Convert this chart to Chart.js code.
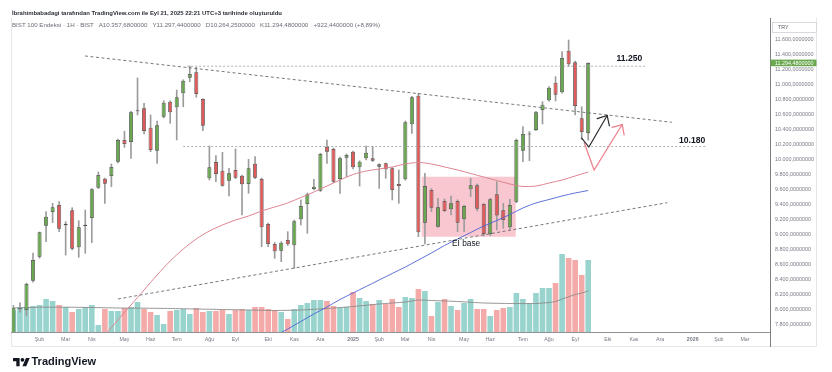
<!DOCTYPE html>
<html lang="tr">
<head>
<meta charset="utf-8">
<title>BIST 100 Endeksi</title>
<script src="https://cdn.jsdelivr.net/npm/chart.js@4/dist/chart.umd.min.js"></script>
<style>
html,body{margin:0;padding:0;background:#fff;}
body{width:832px;height:372px;overflow:hidden;position:relative;font-family:"Liberation Sans",Arial,sans-serif;}
#chart{position:absolute;left:0;top:0;}
.txt{position:absolute;white-space:nowrap;line-height:1;font-size:10px;transform-origin:0 0;}
#credit{left:12px;top:10px;font-weight:700;color:#2a2e39;}
#legend{left:12px;top:22px;color:#6a6d78;}
#brand{left:31.5px;top:356.4px;font-size:11px;font-weight:700;color:#131722;}
#logo{position:absolute;left:12.5px;top:355.8px;}
</style>
</head>
<body>
<canvas id="chart" width="832" height="372"></canvas>
<div id="credit" class="txt">İbrahimbabadagi tarafından TradingView.com ile Eyl 21, 2025 22:21 UTC+3 tarihinde oluşturuldu</div>
<div id="legend" class="txt"></div>
<svg id="logo" width="17" height="13.2" viewBox="0 0 36 28"><path d="M14 22H7V11H0V4h14v18zM28 22h-8l7.5-18h8L28 22z" fill="#131722"/><circle cx="20" cy="8" r="4" fill="#131722"/></svg>
<div id="brand" class="txt">TradingView</div>
<script>
// ---------------- DATA (weekly candles, BIST 100, Jan 2024 - Sep 2025) ----------------
const openP = [7660,8010,8000,8391,8711,9124,9307,9400,9130,9329,
  8836,9120,9227,9631,9751,9787,9978,10267,10240,10650,
  10689,10431,10124,10578,10778,10702,10889,11098,11169,10813,
  9756,9973,9858,9724,9867,9791,9680,9951,9747,9147,
  8880,8791,8933,8862,9209,9413,9613,9591,10178,10147,
  9747,10031,10111,9902,10022,10022,9911,9956,9889,9680,
  9742,10476,10858,9164,9600,9111,9453,9342,9453,9209,
  9609,9662,9413,9013,9542,9330,9102,9444,10124,10340,
  10400,10667,10796,11031,10902,11458,11302,10556,10357.68];
const highP = [8060,8095,8360,8760,9040,9311,9422,9444,9178,9364,
  9191,9333,9620,9840,9760,9947,10280,10382,10650,11093,
  10756,10600,10520,10791,10790,10933,11070,11253,11236,10820,
  10187,10058,10102,9889,10147,9800,10009,10044,9760,9160,
  8900,8910,9044,9200,9467,9560,9742,10090,10267,10160,
  10040,10080,10120,9990,10187,10178,9950,9960,9900,9867,
  10520,10850,10889,9822,9620,9489,9480,9520,9470,9400,
  9756,9680,9420,9490,9711,9422,9476,10280,10444,10380,
  10650,10778,10980,11111,11444,11600,11320,10711,11297.44];
const lowP = [7600,7970,7920,8370,8690,8911,9164,9044,8733,8800,
  8702,8756,8898,9620,9422,9644,9960,10169,10022,10600,
  10347,10111,9956,10560,10489,10267,10711,11044,10836,10391,
  9733,9711,9650,9520,9750,9267,9556,9750,8844,8844,
  8689,8644,8860,8556,9133,9022,9600,9580,9956,9700,
  9556,9778,9880,9653,10000,9980,9622,9756,9467,9422,
  9730,10356,8978,8880,9311,9100,9310,9267,9044,9044,
  9511,9320,8987,8990,9067,9089,9076,9430,9978,9991,
  10390,10480,10780,10787,10890,11250,10600,10276,10264.25];
const closeP = [8030,8020,8347,8667,9036,9244,9369,9084,9150,8818,
  9102,9135,9609,9800,9684,9907,10267,10213,10636,10662,
  10387,10133,10462,10764,10636,10836,11058,11147,10880,10457,
  9902,9813,9658,9822,9764,9676,9889,9764,9102,8880,
  8782,8898,8876,9182,9387,9542,9644,10080,10111,9711,
  10022,10067,9902,9978,10098,9991,9942,9876,9600,9653,
  10502,10836,9036,9653,9364,9369,9320,9422,9164,9387,
  9662,9351,9013,9476,9260,9200,9400,10267,10347,10352,
  10636,10738,10964,10871,11360,11276,10720,10372.04,11294.48];
const volume = [230,260,260,270,280,340,320,280,260,210,
  240,260,280,80,240,220,220,250,260,310,
  240,210,180,90,220,230,240,190,250,210,
  220,220,230,190,230,240,230,260,260,240,
  230,210,140,240,280,300,330,330,320,270,
  250,260,410,350,320,290,330,290,340,260,
  360,350,440,420,170,310,340,270,230,300,
  340,240,240,170,230,250,260,400,340,300,
  400,450,450,500,790,750,730,580,730];

// moving averages (week index -> value)
const maMidIdx = [12,14,16,18,20,22,24,26,28,30,32,34,36,38,40,42,44,46,48,50,52,54,56,58,60,62,64,66,68,70,72,74,76,78,80,82,84,86,88];
const maMidVal = [7467,7667,7867,8067,8267,8467,8653,8813,8947,9053,9133,9200,9253,9320,9373,9427,9500,9573,9653,9733,9807,9853,9880,9907,9947,9967,9947,9907,9867,9820,9773,9727,9680,9647,9653,9693,9733,9787,9840];
const maLongIdx = [38,40,42,44,46,48,50,52,54,56,58,60,62,64,66,68,70,72,74,76,78,80,82,84,86,88];
const maLongVal = [7560,7653,7747,7847,7947,8040,8140,8227,8313,8400,8487,8573,8667,8760,8860,8947,9033,9120,9193,9273,9360,9427,9473,9520,9560,9593];
const volMaIdx = [0,4,8,12,16,20,24,28,32,36,40,44,48,52,56,60,62,64,68,72,76,80,82,83,84,85,86,87,88];
const volMaVal = [250,258,258,255,250,248,245,240,235,230,225,230,245,265,290,310,330,325,315,300,295,295,305,315,340,362,385,400,420];

// axis ticks
const monthTickIdx = [4,8,12,17,21,25,30,34,39,43,47,52,56,60,64,69,73,78,82,86,91,95,99,104,108,112];
const monthTickLbl = ['Şub','Mar','Nis','May','Haz','Tem','Ağu','Eyl','Eki','Kas','Ara','2025','Şub','Mar','Nis','May','Haz','Tem','Ağu','Eyl','Eki','Kas','Ara','2026','Şub','Mar'];
const priceTicks = [7800,8000,8200,8400,8600,8800,9000,9200,9400,9600,9800,10000,10200,10400,10600,10800,11000,11200,11400,11600];

// drawings (week index, price)
const resistIdx = [10.96, 100.8], resistVal = [11387, 10503];
const supportIdx = [16.0, 100.1], supportVal = [8147, 9431];
const levelVal = [11250, 10180], levelFrom = [26.6, 26.0], levelTo = [96.7, 106.0];
const levelText = ['11.250', '10.180'], levelTextIdx = [94.3, 103.9], levelTextVal = [11347, 10253];
const baseBoxIdx = [62.5, 76.9], baseBoxVal = [8977, 9777];
const baseText = 'Eİ base', baseTextIdx = 69.3, baseTextVal = 8880;
const pathBlackIdx = [87.0, 88.1, 90.9], pathBlackVal = [10293, 10173, 10593];
const pathPinkIdx = [87.4, 88.9, 93.2], pathPinkVal = [10227, 9867, 10473];

// ---------------- helpers ----------------
const FONT = '"Liberation Sans", Arial, sans-serif';
const fmtTR = (v, d) => {
  const s = Math.abs(v).toFixed(d); const parts = s.split('.');
  return (v < 0 ? '-' : '') + parts[0].replace(/\B(?=(\d{3})+(?!\d))/g, '.') + (parts[1] ? ',' + parts[1] : '');
};
const N = closeP.length;
const W = Array.from({length: N}, (_, i) => i);
const isUp = W.map(i => closeP[i] >= openP[i]);
const GREEN = '#6aa84f', RED = '#e05a5a';

// header legend
(function(){
  const L = N - 1, chg = closeP[L] - closeP[L - 1], pct = chg / closeP[L - 1] * 100;
  document.getElementById('legend').innerHTML =
    'BIST 100 Endeksi · 1H · BIST&nbsp;&nbsp; A' + fmtTR(openP[L], 7) + '&nbsp;&nbsp; Y' + fmtTR(highP[L], 7) +
    '&nbsp;&nbsp; D' + fmtTR(lowP[L], 7) + '&nbsp;&nbsp; K' + fmtTR(closeP[L], 7) +
    '&nbsp;&nbsp; ' + (chg >= 0 ? '+' : '') + fmtTR(chg, 7) + ' (' + (pct >= 0 ? '+' : '') + fmtTR(pct, 2) + '%)';
  function fit(id, target, cy) {
    const el = document.getElementById(id);
    const w = el.getBoundingClientRect().width;
    const k = target / w;
    el.style.transform = 'scale(' + k + ')';
    el.style.top = (cy - 4.9 * k) + 'px';
  }
  fit('credit', 270, 13.3);
  fit('legend', 368, 25.3);
})();

// ---------------- drawings plugin ----------------
function polyline(ctx, xs, ys, idxs, vals) {
  ctx.beginPath();
  idxs.forEach((iv, k) => {
    const X = xs.getPixelForValue(iv), Y = ys.getPixelForValue(vals[k]);
    if (k) ctx.lineTo(X, Y); else ctx.moveTo(X, Y);
  });
}
function arrow(ctx, xs, ys, idxs, vals, color, width) {
  const pts = idxs.map((iv, k) => [xs.getPixelForValue(iv), ys.getPixelForValue(vals[k])]);
  ctx.strokeStyle = color; ctx.lineWidth = width; ctx.setLineDash([]);
  ctx.lineJoin = 'miter'; ctx.lineCap = 'round';
  ctx.beginPath(); pts.forEach((p, k) => k ? ctx.lineTo(p[0], p[1]) : ctx.moveTo(p[0], p[1])); ctx.stroke();
  const a = pts[pts.length - 2], b = pts[pts.length - 1];
  const ang = Math.atan2(b[1] - a[1], b[0] - a[0]), Lh = 10.5, sp = 0.74;
  ctx.beginPath();
  ctx.moveTo(b[0] - Lh * Math.cos(ang - sp), b[1] - Lh * Math.sin(ang - sp));
  ctx.lineTo(b[0], b[1]);
  ctx.lineTo(b[0] - Lh * Math.cos(ang + sp), b[1] - Lh * Math.sin(ang + sp));
  ctx.stroke();
}
const drawings = {
  id: 'drawings',
  beforeDatasetsDraw(chart) {
    const {ctx, scales: {x, y}} = chart;
    ctx.save();
    const x0 = x.getPixelForValue(baseBoxIdx[0]), x1 = x.getPixelForValue(baseBoxIdx[1]);
    const y0 = y.getPixelForValue(baseBoxVal[1]), y1 = y.getPixelForValue(baseBoxVal[0]);
    ctx.fillStyle = 'rgba(238,86,108,0.33)';
    ctx.fillRect(x0, y0, x1 - x0, y1 - y0);
    ctx.restore();
  },
  afterDatasetsDraw(chart) {
    const {ctx, chartArea: a, scales: {x, y}} = chart;
    ctx.save();
    ctx.beginPath(); ctx.rect(a.left, a.top, a.right - a.left, a.bottom - a.top); ctx.clip();
    // trend lines
    ctx.strokeStyle = '#666a70'; ctx.lineWidth = 0.9; ctx.setLineDash([3, 2.5]);
    polyline(ctx, x, y, resistIdx, resistVal); ctx.stroke();
    polyline(ctx, x, y, supportIdx, supportVal); ctx.stroke();
    // levels
    ctx.strokeStyle = '#9a9ca3'; ctx.lineWidth = 0.8; ctx.setLineDash([2, 2]);
    levelVal.forEach((v, k) => { polyline(ctx, x, y, [levelFrom[k], levelTo[k]], [v, v]); ctx.stroke(); });
    ctx.setLineDash([]);
    // arrows
    arrow(ctx, x, y, pathPinkIdx, pathPinkVal, '#ef8290', 1.3);
    arrow(ctx, x, y, pathBlackIdx, pathBlackVal, '#2b2b2b', 1.2);
    // texts
    ctx.fillStyle = '#131722'; ctx.textAlign = 'center'; ctx.textBaseline = 'middle';
    ctx.font = '700 8.6px ' + FONT;
    levelText.forEach((t, k) => ctx.fillText(t, x.getPixelForValue(levelTextIdx[k]), y.getPixelForValue(levelTextVal[k])));
    ctx.font = '500 8.3px ' + FONT;
    ctx.fillText(baseText, x.getPixelForValue(baseTextIdx), y.getPixelForValue(baseTextVal));
    ctx.restore();
  },
  afterDraw(chart) {
    const {ctx, chartArea: a, scales: {y}} = chart;
    ctx.save();
    ctx.lineWidth = 1;
    // faint outer frame
    ctx.strokeStyle = '#e6e7ea';
    ctx.beginPath();
    ctx.moveTo(a.left + 0.5, a.top); ctx.lineTo(a.left + 0.5, 346.5);
    ctx.lineTo(816.5, 346.5); ctx.lineTo(816.5, a.top);
    ctx.stroke();
    // time axis line and price axis separator
    ctx.strokeStyle = '#8f9196';
    ctx.beginPath(); ctx.moveTo(a.left, a.bottom - 0.5); ctx.lineTo(a.right, a.bottom - 0.5); ctx.stroke();
    ctx.strokeStyle = '#7d7f85';
    ctx.beginPath(); ctx.moveTo(a.right + 0.5, a.top); ctx.lineTo(a.right + 0.5, 347); ctx.stroke();
    // currency box
    ctx.strokeStyle = '#d7d9df'; ctx.fillStyle = '#fff';
    ctx.fillRect(772.5, 22.5, 44, 10); ctx.strokeRect(772.5, 22.5, 44, 10);
    ctx.fillStyle = '#5d606b'; ctx.font = '5.4px ' + FONT; ctx.textAlign = 'left'; ctx.textBaseline = 'middle';
    ctx.fillText('TRY', 778, 27.8);
    // last price label
    const last = closeP[N - 1], py = y.getPixelForValue(last);
    ctx.fillStyle = GREEN; ctx.fillRect(a.right + 0.5, py - 3.3, 46, 6.6);
    ctx.fillStyle = '#fff'; ctx.font = '5.4px ' + FONT;
    ctx.fillText(fmtTR(last, 7), a.right + 5, py + 0.2);
    ctx.restore();
  }
};

// ---------------- chart ----------------
new Chart(document.getElementById('chart'), {
  type: 'bar',
  data: {
    datasets: [
      { type: 'line', label: 'MA orta', data: maMidIdx.map((i, k) => ({x: i, y: maMidVal[k]})),
        borderColor: '#dc8591', borderWidth: 1, pointRadius: 0, tension: 0.3, yAxisID: 'y', order: 0 },
      { type: 'line', label: 'MA uzun', data: maLongIdx.map((i, k) => ({x: i, y: maLongVal[k]})),
        borderColor: '#4d62d6', borderWidth: 0.9, pointRadius: 0, tension: 0.3, yAxisID: 'y', order: 0 },
      { type: 'bar', label: 'Gövde', data: W.map(i => ({x: i, y: [openP[i], closeP[i]]})),
        backgroundColor: W.map(i => isUp[i] ? GREEN : RED), borderColor: '#4a4a4a', borderWidth: 0.8,
        borderSkipped: false, barPercentage: 0.62, categoryPercentage: 1, grouped: false, minBarLength: 1,
        yAxisID: 'y', order: 1, clip: 0 },
      { type: 'bar', label: 'Fitil', data: W.map(i => ({x: i, y: [lowP[i], highP[i]]})),
        backgroundColor: '#9c9c9c', barThickness: 1, grouped: false, yAxisID: 'y', order: 2, clip: 0 },
      { type: 'line', label: 'Hacim MA', data: volMaIdx.map((i, k) => ({x: i, y: volMaVal[k]})),
        borderColor: '#8d8a8a', borderWidth: 0.9, pointRadius: 0, tension: 0.2, yAxisID: 'yv', order: 3 },
      { type: 'bar', label: 'Hacim', data: W.map(i => ({x: i, y: volume[i]})),
        backgroundColor: W.map(i => isUp[i] ? '#98d4cd' : '#f4aaa8'),
        barPercentage: 0.86, categoryPercentage: 1, grouped: false, yAxisID: 'yv', order: 4, clip: 0 }
    ]
  },
  options: {
    responsive: false, animation: false, devicePixelRatio: 1, events: [],
    layout: { padding: { left: 11, top: 18, right: 0, bottom: 0 } },
    plugins: { legend: { display: false }, tooltip: { enabled: false } },
    scales: {
      x: {
        type: 'linear', min: -0.37, max: 115.83, offset: false,
        grid: { display: false, drawTicks: false, offset: false }, border: { display: false },
        afterBuildTicks: s => { s.ticks = monthTickIdx.map(v => ({value: v})); },
        afterFit: s => { s.height = 39; },
        ticks: {
          autoSkip: false, maxRotation: 0, padding: 3.5, color: '#787b86',
          font: c => ({ size: 5.3, family: FONT, weight: /^\d{4}$/.test(monthTickLbl[c.index] || '') ? 'bold' : 'normal' }),
          callback: v => monthTickLbl[monthTickIdx.indexOf(v)] || ''
        }
      },
      y: {
        position: 'right', min: 7693.3, max: 11893.3,
        grid: { display: false, drawTicks: false }, border: { display: false },
        afterBuildTicks: s => { s.ticks = priceTicks.map(v => ({value: v})); },
        afterFit: s => { s.width = 62; },
        ticks: { padding: 5, color: '#787b86', font: { size: 5.4, family: FONT }, callback: v => fmtTR(v, 7) }
      },
      yv: { display: false, min: 0, max: 3150 }
    }
  },
  plugins: [drawings]
});
</script>
</body>
</html>
